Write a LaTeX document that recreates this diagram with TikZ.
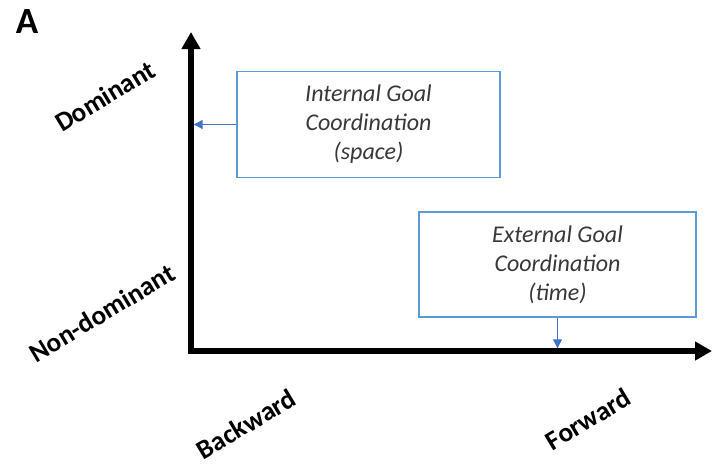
\documentclass[tikz,border=0pt]{standalone}
\usepackage{fontspec}
\setmainfont{Carlito}
\usetikzlibrary{arrows.meta, positioning}

\definecolor{boxblue}{HTML}{5B9BD5}
\definecolor{arrowblue}{HTML}{4472C4}

\begin{document}
\begin{tikzpicture}[
            x=1pt, y=-1pt,
            axis/.style={line width=5.5pt, line join=miter, {Triangle[length=17pt,width=18pt]}-{Triangle[length=17pt,width=18pt]}},
            goalbox/.style={draw=boxblue, line width=1.1pt, align=center, minimum width=263pt, minimum height=106pt,
                font=\fontsize{24}{29}\selectfont\itshape, text=black!78},
            goalarrow/.style={-{Triangle[length=9pt,width=9pt]}, arrowblue, line width=1.2pt, shorten >=2.7pt},
            axislabel/.style={font=\fontsize{27}{30}\selectfont\bfseries, rotate=31},
        ]
            \useasboundingbox (0,0) rectangle (712,466);

            \node[font=\fontsize{37}{37}\selectfont\bfseries] (panel) at (27,22) {A};

            % axes
            \coordinate (origin) at (191,351);
            \coordinate (ytip) at (191,32);
            \coordinate (xtip) at (712,351);
            \draw[axis] (ytip) -- (origin) -- (xtip);

            \node[axislabel] (dom) at (105,96) {Dominant};
            \node[axislabel] (nondom) at (102,313) {Non-dominant};
            \node[axislabel] (back) at (246,424) {Backward};
            \node[axislabel] (fwd) at (588,419) {Forward};

            % the two kinds of coordination
            \node[goalbox] (internal) at (368.5,124.5) {Internal Goal\\Coordination\\(space)};
            \node[goalbox, minimum width=277pt, minimum height=105pt] (external) at (557.5,264.5) {External Goal\\Coordination\\(time)};

            \draw[goalarrow] (internal.west) -- (internal.west -| ytip);
            \draw[goalarrow] (external.south) -- (external.south |- origin);

        \end{tikzpicture}
\end{document}
